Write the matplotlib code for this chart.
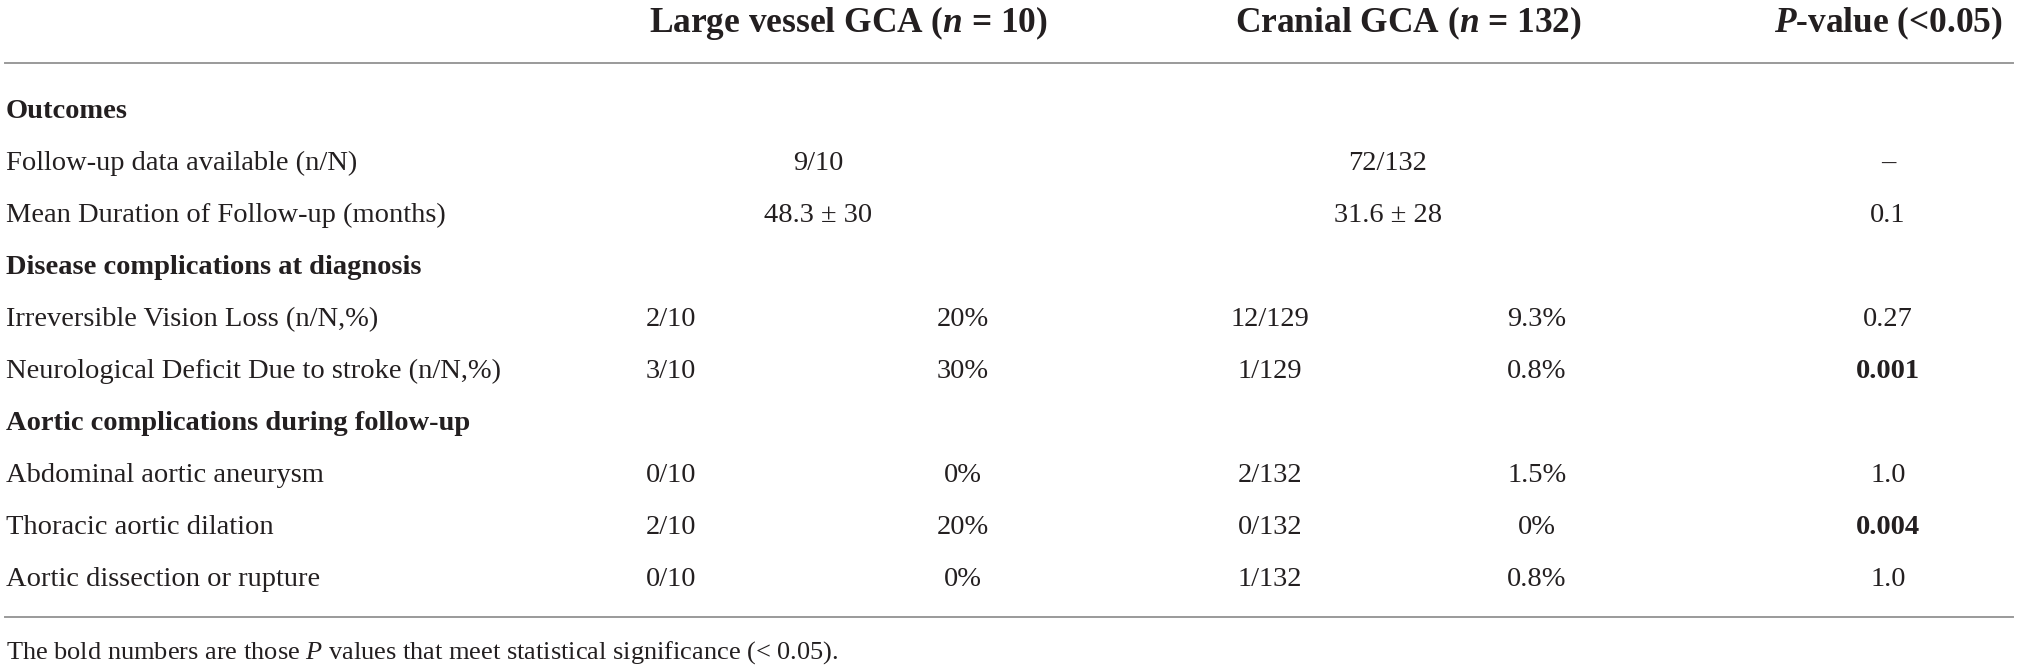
import matplotlib
matplotlib.use("Agg")
import matplotlib.pyplot as plt

plt.rcParams['font.family'] = ['Liberation Serif', 'DejaVu Serif']
plt.rcParams['mathtext.fontset'] = 'custom'
plt.rcParams['mathtext.rm'] = 'Liberation Serif'
plt.rcParams['mathtext.it'] = 'Liberation Serif:italic'
plt.rcParams['mathtext.bf'] = 'Liberation Serif:bold'
plt.rcParams['mathtext.bfit'] = 'Liberation Serif:italic:bold'

# table content
headers = [r"Large vessel GCA ($\mathbfit{n}$ = 10)",
           r"Cranial GCA ($\mathbfit{n}$ = 132)",
           r"$\mathbfit{P}$-value (<0.05)"]

row_labels = ["Outcomes",
              "Follow-up data available (n/N)",
              "Mean Duration of Follow-up (months)",
              "Disease complications at diagnosis",
              "Irreversible Vision Loss (n/N,%)",
              "Neurological Deficit Due to stroke (n/N,%)",
              "Aortic complications during follow-up",
              "Abdominal aortic aneurysm",
              "Thoracic aortic dilation",
              "Aortic dissection or rupture"]
is_section = [True, False, False, True, False, False, True, False, False, False]

lv_n = ["", "9/10", "48.3 ± 30", "", "2/10", "3/10", "", "0/10", "2/10", "0/10"]
lv_pct = ["", None, None, "", "20%", "30%", "", "0%", "20%", "0%"]
cr_n = ["", "72/132", "31.6 ± 28", "", "12/129", "1/129", "", "2/132", "0/132", "1/132"]
cr_pct = ["", None, None, "", "9.3%", "0.8%", "", "1.5%", "0%", "0.8%"]
p_values = ["", "–", "0.1", "", "0.27", "0.001", "", "1.0", "0.004", "1.0"]
p_bold = [False, False, False, False, False, True, False, False, True, False]

footnote = r"The bold numbers are those $\mathit{P}$ values that meet statistical significance (< 0.05)."

# layout (pixel space of the 2019x668 picture)
W, H = 2019, 668
x_label = 6
x_lv_n, x_lv_pct, x_lv_mid = 671, 963, 818
x_cr_n, x_cr_pct, x_cr_mid = 1270, 1537, 1388
x_p = 1888
x_head = [848, 1408, 1888]
y_head = 32
y_first, row_step = 118, 52
y_rule_top, y_rule_bot = 63, 617
y_foot = 659
txt = '#231f20'
rule = '#9a9a9a'
fs_body, fs_head, fs_foot = 20.5, 25.5, 19

fig = plt.figure(figsize=(W / 100, H / 100), dpi=100)
ax = fig.add_axes([0, 0, 1, 1])
ax.set_xlim(0, W)
ax.set_ylim(H, 0)
ax.axis('off')

for x, h in zip(x_head, headers):
    ax.text(x, y_head, h, ha='center', va='baseline', fontsize=fs_head,
            fontweight='bold', color=txt)

ax.plot([5, 2013], [y_rule_top, y_rule_top], color=rule, lw=1.4)
ax.plot([5, 2013], [y_rule_bot, y_rule_bot], color=rule, lw=1.4)

for i, label in enumerate(row_labels):
    y = y_first + i * row_step
    ax.text(x_label, y, label, ha='left', va='baseline', fontsize=fs_body,
            fontweight='bold' if is_section[i] else 'normal', color=txt)
    if is_section[i]:
        continue
    if lv_pct[i] is None:
        ax.text(x_lv_mid, y, lv_n[i], ha='center', va='baseline', fontsize=fs_body, color=txt)
    else:
        ax.text(x_lv_n, y, lv_n[i], ha='center', va='baseline', fontsize=fs_body, color=txt)
        ax.text(x_lv_pct, y, lv_pct[i], ha='center', va='baseline', fontsize=fs_body, color=txt)
    if cr_pct[i] is None:
        ax.text(x_cr_mid, y, cr_n[i], ha='center', va='baseline', fontsize=fs_body, color=txt)
    else:
        ax.text(x_cr_n, y, cr_n[i], ha='center', va='baseline', fontsize=fs_body, color=txt)
        ax.text(x_cr_pct, y, cr_pct[i], ha='center', va='baseline', fontsize=fs_body, color=txt)
    ax.text(x_p, y, p_values[i], ha='center', va='baseline', fontsize=fs_body,
            fontweight='bold' if p_bold[i] else 'normal', color=txt)

ax.text(x_label, y_foot, footnote, ha='left', va='baseline', fontsize=fs_foot, color=txt)

fig.savefig('out.png', dpi=100)
